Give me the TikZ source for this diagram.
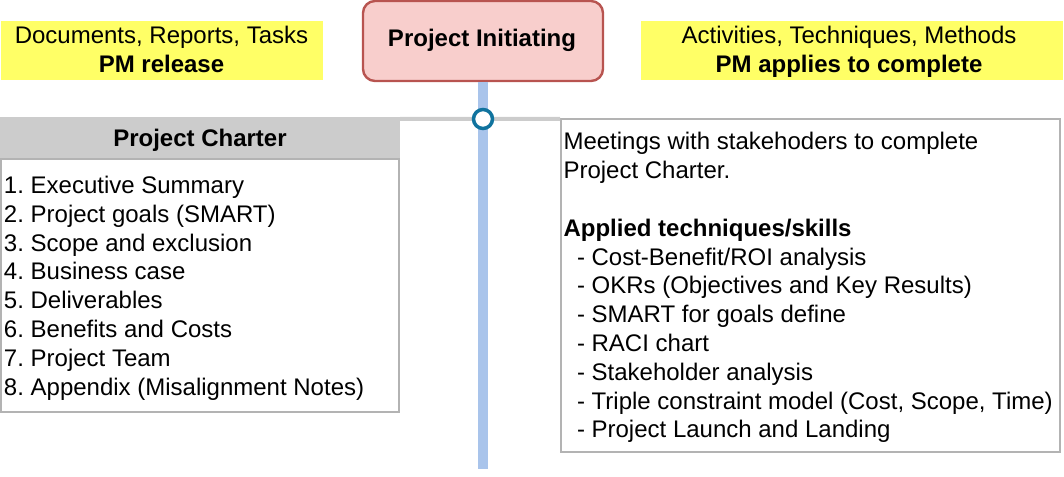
\documentclass[tikz,border=0pt]{standalone}
\usepackage{fontspec}
\setmainfont{Liberation Sans}
\frenchspacing
\definecolor{hiyellow}{HTML}{FFFF66}
\definecolor{pinkfill}{HTML}{F8CECC}
\definecolor{pinkdraw}{HTML}{B85450}
\definecolor{spine}{HTML}{A9C4EB}
\definecolor{ringblue}{HTML}{10739E}
\definecolor{headgray}{HTML}{CCCCCC}
\definecolor{boxgray}{HTML}{B3B3B3}
\tikzset{
  txt/.style={inner sep=0pt, outer sep=0pt, font=\fontsize{24}{28.8}\selectfont\frenchspacing},
  yellowbox/.style={fill=hiyellow, draw=none, inner sep=0pt, minimum width=322pt, minimum height=59pt},
  titlebox/.style={fill=pinkfill, draw=pinkdraw, line width=2.4pt, rounded corners=12pt, inner sep=0pt, minimum width=240pt, minimum height=80pt},
  headbox/.style={fill=headgray, draw=none, inner sep=0pt, minimum width=400pt, minimum height=42pt},
  listbox/.style={fill=white, draw=boxgray, line width=2pt, inner sep=0pt},
  spineline/.style={draw=spine, line width=9.6pt},
  linkline/.style={draw=headgray, line width=4pt},
  ring/.style={circle, fill=white, draw=ringblue, line width=3.5pt, minimum size=19pt, inner sep=0pt}
}
\begin{document}
\begin{tikzpicture}[x=1pt,y=-1pt]
\useasboundingbox (0,0) rectangle (1064,476);
% top boxes
\node[yellowbox] (lefty) at (162,50.5) {};
\node[yellowbox, minimum width=422pt] (righty) at (852,50.5) {};
\node[txt, align=center, anchor=north] (leftyt) at (161.5,23.1) {\strut Documents, Reports, Tasks\\\textbf{PM release}};
\node[txt, align=center, anchor=north] (rightyt) at (849,23.1) {\strut Activities, Techniques, Methods\\\textbf{PM applies to complete}};
\node[titlebox] (title) at (483,41) {};
\node[txt, anchor=base] (titlet) at (482,46.7) {\textbf{Project Initiating}};
% spine
\coordinate (spineend) at (483,469);
\draw[spineline] (title.south) -- (spineend);
% header and boxes
\node[headbox] (head) at (200,138) {};
\node[txt, anchor=base] (headt) at (200,146) {\textbf{Project Charter}};
\node[listbox, minimum width=398pt, minimum height=253pt] (list) at (200,285.5) {};
\node[listbox, minimum width=499pt, minimum height=333pt] (right) at (810.5,285.5) {};
\draw[linkline] ([yshift=-2pt]head.north east) -- ([yshift=-1pt]right.north west);
\node[ring] (ring) at (483,119) {};
% texts
\node[txt, align=left, anchor=north west] (listt) at (4,173.3) {\strut 1. Executive Summary\\
2. Project goals (SMART)\\
3. Scope and exclusion\\
4. Business case\\
5. Deliverables\\
6. Benefits and Costs\\
7. Project Team\\
8. Appendix (Misalignment Notes)};
\node[txt, align=left, anchor=north west] (rightt) at (563.5,129.8) {\strut Meetings with stakehoders to complete\\
Project Charter.\\[28.8pt]
\textbf{Applied techniques/skills}\\
\hspace*{13.5pt}- Cost-Benefit/ROI analysis\\
\hspace*{13.5pt}- OKRs (Objectives and Key Results)\\
\hspace*{13.5pt}- SMART for goals define\\
\hspace*{13.5pt}- RACI chart\\
\hspace*{13.5pt}- Stakeholder analysis\\
\hspace*{13.5pt}- Triple constraint model (Cost, Scope, Time)\\
\hspace*{13.5pt}- Project Launch and Landing};
\end{tikzpicture}
\end{document}
